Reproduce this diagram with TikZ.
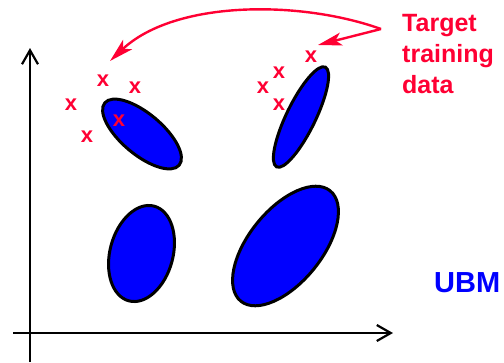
\documentclass[tikz,border=0pt]{standalone}
\usepackage{fontspec}
\setmainfont{Liberation Sans}
\usetikzlibrary{arrows.meta}
\definecolor{tgtred}{RGB}{255,0,51}

\tikzset{
  gauss/.style={draw=black, fill=blue, line width=3pt},
  sample/.style={text=tgtred, font=\bfseries\fontsize{22}{22}\selectfont, inner sep=0pt},
  axis/.style={line width=2.2pt, -{Straight Barb[length=14pt,width=16pt]}},
  pointer/.style={draw=tgtred, line width=2.4pt, -{Stealth[length=24pt,width=13pt,inset=6pt]}}
}

\begin{document}
\begin{tikzpicture}[x=1pt,y=-1pt]
		\useasboundingbox (0,0) rectangle (504,362);

		% Draw axes
		\draw[axis] (30,362) -- (30,48);
		\draw[axis] (13,333) -- (393,333);

		% Draw the mixture components
		\draw[gauss, shift={(142,134)}, rotate=-40] (0,0) ellipse [x radius=48.5, y radius=20.5];
		\draw[gauss, shift={(301,117)}, rotate=64] (0,0) ellipse [x radius=55.5, y radius=14.5];
		\draw[gauss, shift={(141.5,253.5)}, rotate=75] (0,0) ellipse [x radius=49, y radius=31.5];
		\draw[gauss, shift={(285.5,246)}, rotate=51] (0,0) ellipse [x radius=71, y radius=36.5];

		% Add training samples
		\node[sample] (x1) at (71,105) {x};
		\node[sample] (x2) at (103,81) {x};
		\node[sample] (x3) at (135,88) {x};
		\node[sample] (x4) at (87,137) {x};
		\node[sample] (x5) at (119,121) {x};
		\node[sample] (x6) at (311,57) {x};
		\node[sample] (x7) at (279,73) {x};
		\node[sample] (x8) at (263,88) {x};
		\node[sample] (x9) at (279,105) {x};

		% Add labels
		\node[anchor=north west, inner sep=0pt, align=left, text=tgtred,
		      font=\bfseries\fontsize{25}{31}\selectfont] (target) at (402,14) {Target\\training\\data};
		\node[anchor=west, inner sep=0pt, text=blue,
		      font=\bfseries\fontsize{29}{29}\selectfont] (ubm) at (434,283) {UBM};

		% Draw pointers to the samples
		\coordinate (split) at (381,29);
		\coordinate (tipL) at (110,61);
		\coordinate (tipR) at (318,45);
		\draw[pointer] (split) .. controls (300,0) and (175,0) .. (tipL);
		\draw[pointer] (split) -- (tipR);
\end{tikzpicture}
\end{document}
